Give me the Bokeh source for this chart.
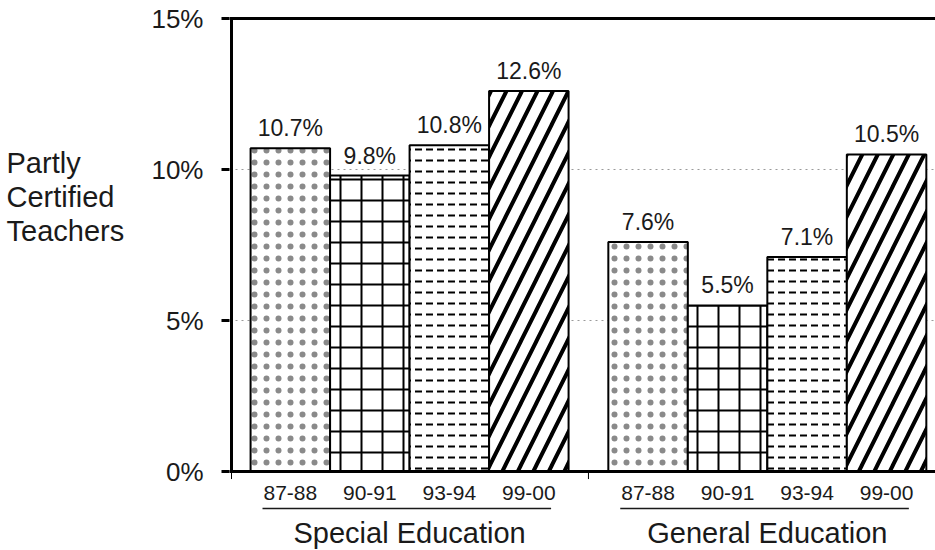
from bokeh.plotting import figure
from bokeh.layouts import row
from bokeh.models import FixedTicker, PrintfTickFormatter, Span, ColumnDataSource, Range1d
from bokeh.core.properties import value
from bokeh.embed import file_html
from bokeh.resources import INLINE

# ---- data ----
groups = ["Special Education", "General Education"]
years = ["87-88", "90-91", "93-94", "99-00"]
special = [10.7, 9.8, 10.8, 12.6]
general = [7.6, 5.5, 7.1, 10.5]
y_ticks = [0, 5, 10, 15]
y_title = ["Partly", "Certified", "Teachers"]

# ---- styles ----
patterns = ["dot", "cross", "horizontal_dash", "right_diagonal_line"]
hscales = [12, 21, 11, 31]
hweights = [0.5, 2, 2, 4]
hcolors = ["#8a8a8a", "black", "black", "black"]
FONT = "Liberation Sans"
TXT = "#1a1a1a"

# layout (bar width = 1 unit)
lead = 0.24
group_gap = 0.5
series = [special, general]

W, H = 935, 550
TW = 140                     # width of the title strip
frame_left = 229
px_per_unit = 79.5
px_per_pct = 30.2
zero_px = 471

def pct_from_px(py):
    return (zero_px - py) / px_per_pct

xs, tops, labels, pats, scs, wts, hcs, lab = [], [], [], [], [], [], [], []
for g, vals in enumerate(series):
    for i, v in enumerate(vals):
        xs.append(lead + g * (len(years) + group_gap) + i + 0.5)
        tops.append(v)
        labels.append(years[i])
        pats.append(patterns[i])
        scs.append(hscales[i])
        wts.append(hweights[i])
        hcs.append(hcolors[i])
        lab.append(f"{v:.1f}%")

src = ColumnDataSource(dict(x=xs, top=tops, year=labels, pat=pats, sc=scs, wt=wts, hc=hcs,
                            lab=lab, ly=[t + 20 / px_per_pct for t in tops]))

x_start = -2 / px_per_unit
x_end = x_start + (W - frame_left) / px_per_unit
yr = Range1d(pct_from_px(H), pct_from_px(0))

p = figure(width=W - TW, height=H, output_backend="svg", toolbar_location=None,
           x_range=(x_start, x_end), y_range=yr,
           x_axis_location=None, y_axis_location="left",
           min_border_left=frame_left - TW, min_border_right=0, min_border_top=0, min_border_bottom=0)
p.outline_line_color = None
p.background_fill_color = "white"
p.border_fill_color = "white"
p.xgrid.visible = False

ya = p.yaxis[0]
ya.ticker = FixedTicker(ticks=y_ticks)
ya.formatter = PrintfTickFormatter(format="%d%%")
ya.axis_line_color = None
ya.major_tick_out = 8
ya.major_tick_in = 0
ya.major_tick_line_width = 3
ya.major_tick_line_color = "black"
ya.minor_tick_line_color = None
ya.major_label_standoff = 18
ya.major_label_text_font = FONT
ya.major_label_text_font_size = "26px"
ya.major_label_text_color = TXT

p.ygrid.ticker = FixedTicker(ticks=y_ticks)
p.ygrid.grid_line_color = "#9a9a9a"
p.ygrid.grid_line_dash = "dotted"
p.ygrid.grid_line_width = 1

# bars
p.vbar(x="x", top="top", bottom=0, width=1, source=src,
       fill_color="white", line_color="black", line_width=2,
       hatch_pattern="pat", hatch_scale="sc", hatch_weight="wt", hatch_color="hc")

# frame lines
p.add_layout(Span(location=15, dimension="width", line_color="black", line_width=3))
p.add_layout(Span(location=0, dimension="width", line_color="black", line_width=3))
p.segment(x0=[0], y0=[0], x1=[0], y1=[15], line_color="black", line_width=3)
mid = lead + len(years) + group_gap / 2
p.segment(x0=[0, mid], y0=[0, 0], x1=[0, mid], y1=[-0.25, -0.25], line_color="black", line_width=1)

# value labels
p.text(x="x", y="ly", text="lab", source=src, text_align="center", text_baseline="middle",
       text_font=value(FONT), text_font_size="23px", text_color=TXT)
# year labels
p.text(x="x", y=pct_from_px(492.5), text="year", source=src, text_align="center",
       text_baseline="middle", text_font=value(FONT), text_font_size="21px", text_color=TXT)

# group underline and labels
g_start = [lead + g * (len(years) + group_gap) for g in range(len(groups))]
uy = pct_from_px(508)
p.segment(x0=[s + 0.15 for s in g_start], y0=uy, x1=[s + len(years) - 0.22 for s in g_start],
          y1=uy, line_color=TXT, line_width=1.5)
p.text(x=[s + len(years) / 2 for s in g_start], y=pct_from_px(532), text=groups,
       text_align="center", text_baseline="middle", text_font=value(FONT),
       text_font_size="29px", text_color=TXT)

# title strip on the left, sharing the vertical scale
t = figure(width=TW, height=H, output_backend="svg", toolbar_location=None,
           x_range=(0, TW), y_range=yr, x_axis_location=None, y_axis_location=None,
           min_border=0)
t.outline_line_color = None
t.grid.visible = False
t.background_fill_color = "white"
t.border_fill_color = "white"
t.text(x=6, y=[pct_from_px(c) for c in (162.5, 196.5, 230.5)], text=y_title,
       text_align="left", text_baseline="middle", text_font=value(FONT),
       text_font_size="29px", text_color=TXT)

layout = row(t, p, spacing=0)
open("out.html", "w").write(file_html(layout, INLINE))
